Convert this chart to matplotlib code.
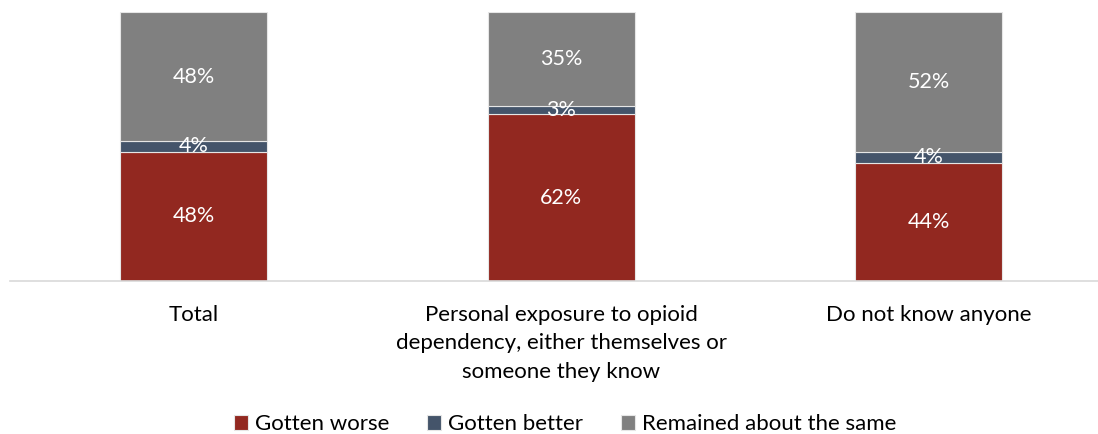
import matplotlib.pyplot as plt
import numpy as np

categories = ['Total',
              'Personal exposure to opioid\ndependency, either themselves or\nsomeone they know',
              'Do not know anyone']
series_names = ['Gotten worse', 'Gotten better', 'Remained about the same']
worse = [48, 62, 44]
better = [4, 3, 4]
same = [48, 35, 52]
colors = ['#922820', '#44546A', '#808080']

plt.rcParams['font.family'] = ['Lato', 'DejaVu Sans']

fig = plt.figure(figsize=(10.98, 4.34), dpi=100)
ax = fig.add_axes([10 / 1098, 1 - 281 / 434, 1088 / 1098, 269 / 434])

x = np.arange(len(categories))
bottom = np.zeros(len(categories))
for name, vals, c in zip(series_names, [worse, better, same], colors):
    vals = np.array(vals, dtype=float)
    ax.bar(x, vals, 0.4, bottom=bottom, color=c, edgecolor='#E6E6E6',
           linewidth=0.8, label=name)
    for xi, b, v in zip(x, bottom, vals):
        ax.text(xi, b + v / 2, f'{int(v)}%', ha='center', va='center',
                color='white', fontsize=15.5)
    bottom += vals

ax.set_xlim(-0.5, 2.46)
ax.set_ylim(0, 100)
ax.set_yticks([])
ax.set_xticks(x)
ax.set_xticklabels(categories, fontsize=16, linespacing=1.55)
ax.tick_params(axis='x', length=0, pad=17)
for s in ['top', 'right', 'left']:
    ax.spines[s].set_visible(False)
ax.spines['bottom'].set_color('#D9D9D9')
ax.spines['bottom'].set_linewidth(1.2)

fig.legend(loc='center', bbox_to_anchor=(565 / 1098, 1 - 424 / 434), ncol=3,
           frameon=False, fontsize=16, handlelength=0.65, handleheight=0.65,
           handletextpad=0.3, columnspacing=1.7, borderaxespad=0)

fig.savefig('out.png', dpi=100)
